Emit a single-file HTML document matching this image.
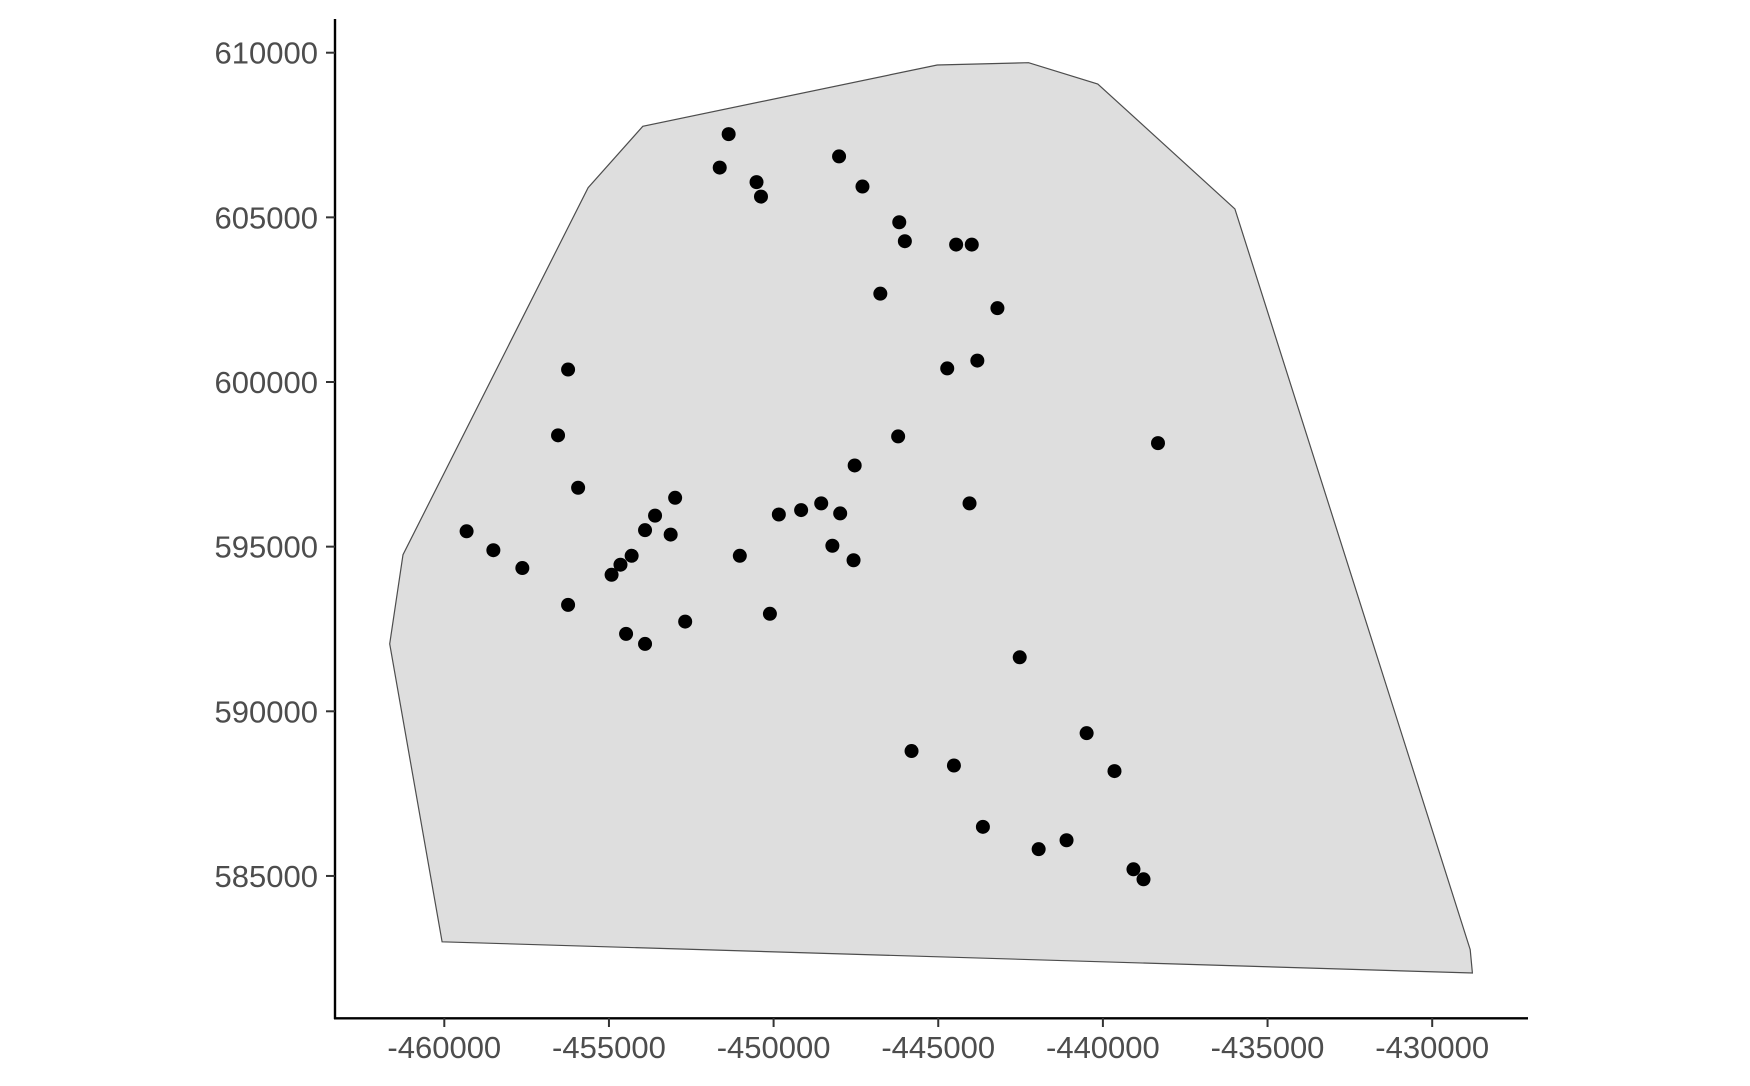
<!DOCTYPE html>
<html><head><meta charset="utf-8"><style>
body{margin:0;background:#fff}
svg text{font-family:"Liberation Sans",Arial,sans-serif;font-size:31px;fill:#4d4d4d}
</style></head><body>
<svg id="chart" width="1750" height="1081" xmlns="http://www.w3.org/2000/svg">
<g id="plot"></g>
</svg>
<script>
const xTicks=[-460000,-455000,-450000,-445000,-440000,-435000,-430000];
const yTicks=[585000,590000,595000,600000,605000,610000];
const hullX=[-453972,-455632,-461253,-461659,-460068,-428778,-428845,-435990,-440156,-442256,-445032];
const hullY=[607764,605901,594756,592046,583001,582053,582764,605257,609051,609695,609627];
const ptX=[-451365,-451636,-450518,-450383,-448012,-447301,-446184,-446014,-444457,-443982,-446759,-443203,-444727,-443813,-456241,-456546,-455936,-446218,-447538,-438327,-444050,-459323,-458510,-457630,-456241,-454920,-454650,-454311,-453904,-453600,-453126,-452990,-454480,-453904,-452685,-451026,-450112,-449841,-449164,-448554,-447978,-448215,-447572,-442526,-440494,-445811,-444524,-439648,-443644,-441951,-441104,-439072,-438767];
const ptY=[607527,606511,606070,605630,606850,605935,604851,604275,604173,604173,602683,602243,600413,600650,600379,598381,596789,598347,597466,598144,596314,595467,594892,594350,593232,594146,594451,594722,595501,595942,595366,596484,592351,592046,592724,594722,592961,595976,596111,596314,596009,595027,594587,591640,589336,588794,588354,588184,586491,585813,586084,585203,584898];
const K=0.03293;
function sx(v){return 444.3+(v+460000)*K;}
function sy(v){return 52.7+(610000-v)*K;}
const NS="http://www.w3.org/2000/svg";
const g=document.getElementById('plot');
function mk(t,a){const e=document.createElementNS(NS,t);for(const k in a)e.setAttribute(k,a[k]);g.appendChild(e);return e;}
let pts=hullX.map((x,i)=>sx(x).toFixed(1)+','+sy(hullY[i]).toFixed(1)).join(' ');
let poly=mk('polygon',{points:pts,fill:'#dedede',stroke:'#4d4d4d','stroke-width':1.2});


ptX.forEach((x,i)=>{
 const c=mk('circle',{cx:sx(x),cy:sy(ptY[i]),r:7,fill:'#000'});
 
 
});
let ya=mk('line',{x1:335,y1:19,x2:335,y2:1019,stroke:'#000','stroke-width':2.4});


let xa=mk('line',{x1:334,y1:1018.3,x2:1528,y2:1018.3,stroke:'#000','stroke-width':2.4});


xTicks.forEach(v=>{
 const t=mk('line',{x1:sx(v),y1:1018,x2:sx(v),y2:1027,stroke:'#333','stroke-width':2});
 
 
 const l=mk('text',{x:sx(v),y:1058,'text-anchor':'middle'});
 l.textContent=v;
 
 
});
yTicks.forEach(v=>{
 const t=mk('line',{x1:326,y1:sy(v),x2:335,y2:sy(v),stroke:'#333','stroke-width':2});
 
 
 const l=mk('text',{x:318,y:sy(v)+11,'text-anchor':'end'});
 l.textContent=v;
 
 
});
</script>
</body></html>
